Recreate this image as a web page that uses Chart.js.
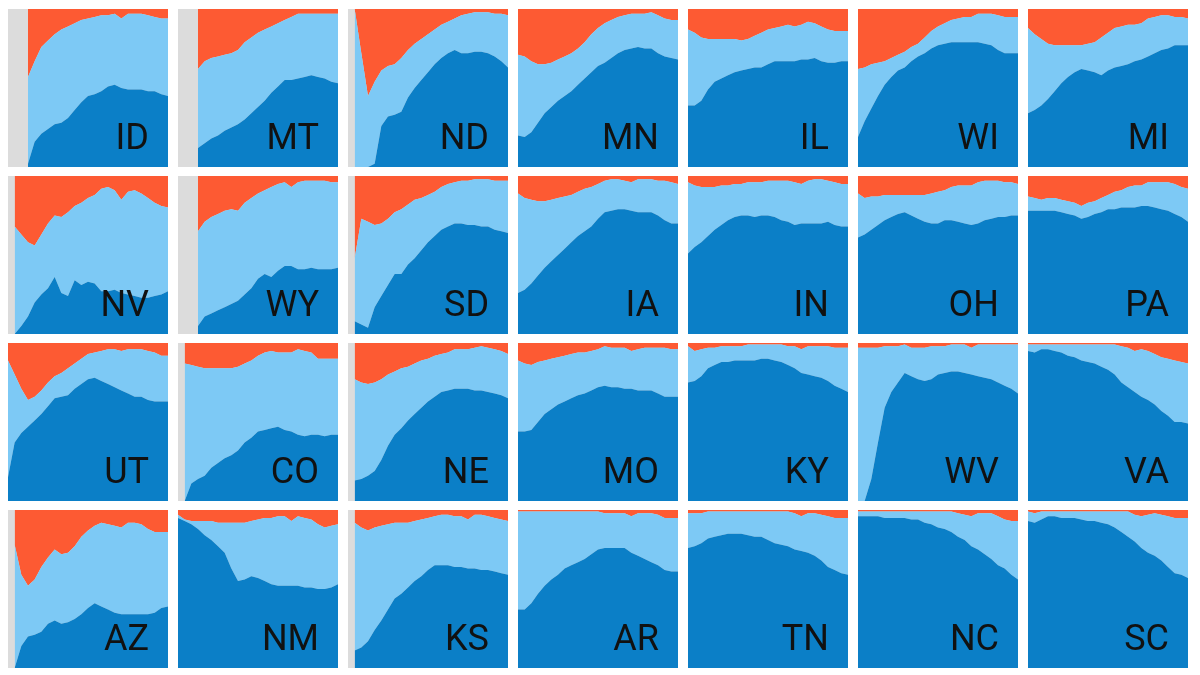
<!DOCTYPE html>
<html><head><meta charset="utf-8">
<script src="https://cdn.jsdelivr.net/npm/chart.js@4"></script>
<style>
html,body{margin:0;padding:0;background:#fff;}
#wrap{position:relative;width:1200px;height:675px;overflow:hidden;background:#fff;}
.panel{position:absolute;width:160px;height:158px;background:#dcdcdc;}
.panel canvas{position:absolute;left:0;top:0;}
.lbl{position:absolute;right:19px;bottom:12px;font-family:Roboto,"Noto Sans",sans-serif;font-size:36px;line-height:1;color:#111;pointer-events:none;}
</style></head><body><div id="wrap"></div><script>
// 25 time periods per panel (x axis, not shown)
const periods = ['1','2','3','4','5','6','7','8','9','10','11','12','13','14','15','16','17','18','19','20','21','22','23','24','25'];
const states = ['ID','MT','ND','MN','IL','WI','MI','NV','WY','SD','IA','IN','OH','PA','UT','CO','NE','MO','KY','WV','VA','AZ','NM','KS','AR','TN','NC','SC'];

// *_dark: share of the dark-blue group (%), *_top: dark + light-blue share (%), remainder is the orange group
const ID_dark = [null,null,null,2,16,21,24,27,28,31,36,41,45,46,48,51,52,50,49,49,49,48,48,46,45];
const ID_top  = [null,null,null,57,67,76,80,84,87,89,91,93,94,95,96,96,97,94,97,97,97,96,95,94,94];
const MT_dark = [null,null,null,12,15,18,20,23,25,27,30,34,38,42,47,51,55,55,56,57,58,57,56,54,53];
const MT_top  = [null,null,null,62,67,69,70,71,72,74,79,82,85,87,89,91,93,95,97,97,97,97,97,97,97];
const ND_dark = [null,0,0,0,2,26,32,33,35,44,50,55,60,65,69,72,74,72,72,73,73,72,70,67,63];
const ND_top  = [null,100,72,45,54,61,64,65,69,74,78,81,84,87,90,92,94,96,97,98,98,98,97,97,96];
const MN_dark = [20,19,22,28,34,38,42,45,48,52,56,60,64,66,69,72,74,75,76,75,75,72,70,69,68];
const MN_top  = [71,70,67,65,65,66,68,70,72,75,79,84,88,91,93,95,96,97,97,97,98,96,94,93,93];
const IL_dark = [39,39,42,49,54,56,58,60,61,62,63,63,65,67,67,67,67,68,68,69,67,66,66,67,67];
const IL_top  = [87,85,82,81,81,81,81,81,80,81,83,85,87,88,89,90,89,90,92,91,89,87,86,86,86];
const WI_dark = [19,29,37,45,52,57,61,63,67,70,72,75,77,78,79,79,79,79,79,78,77,74,72,72,72];
const WI_top  = [62,63,65,66,67,69,71,73,76,78,82,86,89,91,93,94,95,95,97,97,97,96,95,95,95];
const MI_dark = [34,36,39,43,48,53,57,60,62,61,60,58,61,63,64,65,67,68,70,72,74,75,77,77,77];
const MI_top  = [88,84,81,78,77,77,77,77,77,78,79,82,85,88,89,90,90,91,94,95,96,96,95,95,94];

const NV_dark = [null,0,5,11,20,25,29,36,26,24,34,31,33,32,27,27,28,26,25,24,23,23,24,25,27];
const NV_top  = [null,68,63,58,56,63,70,75,74,77,81,83,86,88,92,93,91,85,90,91,89,86,83,81,80];
const WY_dark = [null,null,null,5,11,13,15,17,19,21,25,29,35,38,36,40,43,43,41,41,42,41,41,41,42];
const WY_top  = [null,null,null,65,71,74,76,78,79,78,83,86,89,91,93,95,96,93,96,97,97,97,97,96,96];
const SD_dark = [null,8,6,4,17,24,31,38,38,44,48,53,58,62,66,68,70,70,69,69,68,68,66,65,64];
const SD_top  = [null,48,73,71,69,70,73,77,79,82,85,86,88,90,93,95,96,97,97,98,98,98,97,97,97];
const IA_dark = [26,28,32,37,42,46,50,54,58,62,65,68,73,77,78,79,79,78,77,77,77,75,72,70,70];
const IA_top  = [89,86,85,84,84,85,86,87,88,90,92,93,95,97,98,98,97,96,98,98,98,97,97,96,95];
const IN_dark = [51,55,58,62,66,69,72,74,75,75,74,75,75,74,72,71,69,70,70,70,70,71,69,68,68];
const IN_top  = [96,94,93,93,93,94,94,95,95,96,96,96,97,97,97,97,96,95,97,98,98,97,96,95,95];
const OH_dark = [61,63,66,69,72,74,76,77,75,73,71,70,70,72,72,71,70,69,70,72,73,74,74,75,75];
const OH_top  = [89,86,87,87,88,88,88,88,88,88,88,89,90,91,93,94,94,94,96,97,97,97,96,96,95];
const PA_dark = [78,78,78,78,78,77,76,75,73,74,76,77,79,79,80,80,80,81,81,80,79,78,76,74,71];
const PA_top  = [87,86,85,86,86,85,84,83,81,83,84,86,88,90,91,93,94,94,96,96,96,96,95,93,92];

const UT_dark = [15,37,43,47,51,55,60,65,66,67,71,74,77,78,76,74,72,70,68,66,66,64,63,63,63];
const UT_top  = [89,80,71,64,66,70,75,79,81,84,87,90,93,94,95,96,96,95,96,96,96,95,94,92,92];
const CO_dark = [null,0,11,14,16,21,24,27,29,32,37,40,44,45,46,47,45,44,42,41,42,42,41,42,42];
const CO_top  = [null,87,86,85,84,84,84,84,84,85,87,89,92,94,95,94,94,94,96,95,94,90,90,90,90];
const NE_dark = [null,13,14,16,19,26,35,42,46,51,55,59,63,66,69,70,71,71,71,70,70,69,68,67,65];
const NE_top  = [null,77,75,74,75,77,80,82,84,85,87,89,90,92,93,94,96,96,96,97,98,97,96,95,93];
const MO_dark = [44,44,45,50,55,58,61,63,65,67,68,70,72,73,72,72,71,71,70,70,70,68,66,66,66];
const MO_top  = [89,87,86,88,89,90,91,92,93,94,94,95,96,98,97,97,97,95,96,97,97,97,97,96,96];
const KY_dark = [75,76,79,84,86,88,88,89,89,89,89,90,90,89,88,86,84,81,80,79,78,76,73,71,69];
const KY_top  = [98,95,96,97,97,98,98,98,98,99,99,99,99,99,99,98,98,96,98,98,98,98,97,97,97];
const WV_dark = [0,0,14,37,59,69,75,81,79,77,76,77,80,81,82,82,81,80,79,78,77,75,73,71,68];
const WV_top  = [97,97,97,97,98,98,98,99,97,97,97,98,98,98,99,99,99,97,99,99,99,99,99,99,99];
const VA_dark = [95,94,96,96,95,94,92,91,89,88,87,85,83,80,75,72,69,66,64,61,57,54,50,50,49];
const VA_top  = [99,99,99,99,99,99,99,99,99,99,99,99,99,99,98,97,95,96,95,93,91,90,89,88,87];

const AZ_dark = [null,0,14,20,21,23,28,30,28,29,31,34,38,41,39,37,35,34,34,34,34,34,35,38,39];
const AZ_top  = [null,78,59,52,56,64,70,75,72,73,77,83,87,90,92,91,90,89,92,92,91,88,86,86,86];
const NM_dark = [95,93,91,88,84,81,77,73,63,55,56,58,57,55,53,52,52,52,52,51,51,50,50,51,53];
const NM_top  = [97,94,93,93,93,93,92,92,92,92,92,93,94,95,95,96,96,93,96,95,94,91,89,90,91];
const KS_dark = [null,11,13,17,24,30,37,44,47,51,55,58,62,65,65,65,64,64,63,63,62,62,61,60,59];
const KS_top  = [null,92,89,87,89,90,91,92,92,92,93,94,95,96,97,97,96,96,94,97,97,96,95,94,93];
const AR_dark = [37,37,41,47,52,56,59,63,65,67,69,72,75,76,76,76,76,73,71,69,67,65,62,61,61];
const AR_top  = [99,99,99,99,99,99,99,99,99,99,99,99,99,98,98,98,98,96,98,98,98,97,95,95,95];
const TN_dark = [76,77,79,82,83,84,85,85,85,84,83,83,81,79,78,77,75,74,73,71,68,64,62,60,59];
const TN_top  = [98,98,98,99,99,99,99,99,99,99,99,99,99,99,99,99,98,96,98,98,97,96,95,95,95];
const NC_dark = [96,96,96,96,95,95,95,95,94,94,92,91,89,88,86,83,81,77,75,72,69,65,63,59,56];
const NC_top  = [99,99,99,99,99,99,99,99,99,99,99,99,99,99,99,98,97,96,98,98,98,96,94,93,93];
const SC_dark = [93,92,94,96,96,95,95,95,94,93,93,92,91,89,86,83,80,76,73,71,68,64,60,59,57];
const SC_top  = [99,98,99,99,99,99,99,99,99,99,99,99,99,99,99,99,97,96,97,98,97,96,95,95,95];

const darkSeries = [ID_dark,MT_dark,ND_dark,MN_dark,IL_dark,WI_dark,MI_dark,NV_dark,WY_dark,SD_dark,IA_dark,IN_dark,OH_dark,PA_dark,UT_dark,CO_dark,NE_dark,MO_dark,KY_dark,WV_dark,VA_dark,AZ_dark,NM_dark,KS_dark,AR_dark,TN_dark,NC_dark,SC_dark];
const topSeries  = [ID_top,MT_top,ND_top,MN_top,IL_top,WI_top,MI_top,NV_top,WY_top,SD_top,IA_top,IN_top,OH_top,PA_top,UT_top,CO_top,NE_top,MO_top,KY_top,WV_top,VA_top,AZ_top,NM_top,KS_top,AR_top,TN_top,NC_top,SC_top];

const DARK = '#0b7fc7', LIGHT = '#7dc9f5', ORANGE = '#fd5a33';
const wrap = document.getElementById('wrap');

states.forEach((st, k) => {
  const col = k % 7, row = Math.floor(k / 7);
  const div = document.createElement('div');
  div.className = 'panel';
  div.style.left = (8 + col * 170) + 'px';
  div.style.top = (9 + row * 167) + 'px';
  const cv = document.createElement('canvas');
  cv.width = 160; cv.height = 158;
  cv.style.width = '160px'; cv.style.height = '158px';
  div.appendChild(cv);
  const lbl = document.createElement('div');
  lbl.className = 'lbl';
  lbl.textContent = st;
  div.appendChild(lbl);
  wrap.appendChild(div);

  const base = {borderWidth: 0, pointRadius: 0, tension: 0, spanGaps: false};
  new Chart(cv, {
    type: 'line',
    data: {
      labels: periods,
      datasets: [
        Object.assign({label: 'dark', data: darkSeries[k], fill: 'origin', backgroundColor: DARK, borderColor: DARK}, base),
        Object.assign({label: 'light', data: topSeries[k], fill: '-1', backgroundColor: LIGHT, borderColor: LIGHT}, base),
        Object.assign({label: 'orange', data: topSeries[k], fill: 'end', backgroundColor: ORANGE, borderColor: ORANGE}, base)
      ]
    },
    options: {
      responsive: false,
      animation: false,
      events: [],
      layout: {padding: 0},
      plugins: {legend: {display: false}, tooltip: {enabled: false}, title: {display: false}},
      scales: {
        x: {display: false, offset: false},
        y: {display: false, min: 0, max: 100}
      }
    }
  });
});
</script></body></html>
